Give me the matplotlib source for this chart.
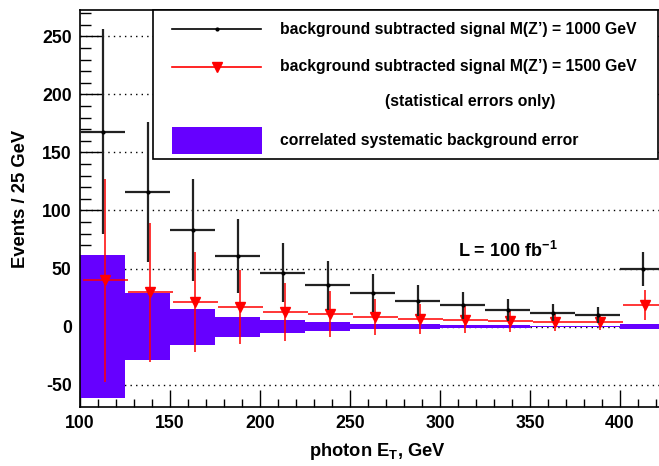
import numpy as np
import matplotlib.pyplot as plt
from matplotlib.patches import Rectangle

plt.rcParams['font.family'] = ['Liberation Sans', 'DejaVu Sans']
plt.rcParams['font.weight'] = 'bold'
plt.rcParams['mathtext.fontset'] = 'custom'
plt.rcParams['mathtext.rm'] = 'Liberation Sans:bold'
plt.rcParams['mathtext.bf'] = 'Liberation Sans:bold'
plt.rcParams['axes.unicode_minus'] = False

# ==================== DADOS ====================
bordas = np.arange(100, 426, 25)
centros = (bordas[:-1] + bordas[1:]) / 2

# M(Z') = 1000 GeV
sinal_1000 = [168, 116, 83, 61, 46.5, 35.5, 28.6, 22.2, 18.3, 14.2, 12, 10.2, 49.5]
erro_1000 = [88, 60, 44, 32, 25.5, 21, 16.5, 13.5, 11.5, 9.5, 7, 7, 14.5]

# M(Z') = 1500 GeV
sinal_1500 = [40, 29.6, 21, 17, 12.6, 10.7, 8, 6.6, 5.9, 5, 4, 3.6, 18.2]
erro_1500 = [87.5, 60, 43, 32, 25, 20, 15.4, 13, 11.8, 10, 7.5, 6.8, 13]

# erro sistematico correlacionado
sistematico = [61.5, 29, 15.5, 8.6, 5.6, 3.8, 2.5, 1.8, 1.3, 1.1, 0.6, 0.5, 2]

roxo = '#6600ff'
# ===============================================

fig = plt.figure(figsize=(6.59, 4.66), dpi=100)
ax = fig.add_axes([80 / 659, 1 - 406.7 / 466, 585 / 659, 396.7 / 466])

ax.bar(centros, 2 * np.array(sistematico), bottom=-np.array(sistematico),
       width=25, color=roxo, linewidth=0, zorder=2)

ax.errorbar(centros, sinal_1000, xerr=12.5, yerr=erro_1000, fmt='o', ms=2,
            color='black', ecolor='#222222', elinewidth=1.6, capsize=0, zorder=4)
ax.errorbar(centros + 1.5, sinal_1500, xerr=12.5, yerr=erro_1500, fmt='v', ms=6.5,
            color='red', elinewidth=1.1, capsize=0, zorder=3)

ax.set_xlim(100, 425)
ax.set_ylim(-69.1, 272.8)
ax.set_yticks([-50, 0, 50, 100, 150, 200, 250])
ax.set_xticks([100, 150, 200, 250, 300, 350, 400])
ax.set_xticks(np.arange(110, 425, 10), minor=True)
ax.set_yticks(np.arange(-60, 271, 10), minor=True)
ax.yaxis.grid(True, linestyle=(0, (1, 3)), color='black', lw=1)
ax.set_axisbelow(True)

ax.tick_params(axis='both', which='both', direction='in', top=False, right=False,
               labelsize=12.7, width=1)
ax.tick_params(axis='x', which='major', length=12, pad=6)
ax.tick_params(axis='x', which='minor', length=6)
ax.tick_params(axis='y', which='major', length=16, pad=6)
ax.tick_params(axis='y', which='minor', length=8)
for s in ax.spines.values():
    s.set_linewidth(1.2)

fig.text(20.7 / 659, 1 - 130 / 466, 'Events / 25 GeV', rotation=90,
         ha='center', va='top', fontsize=13.2, fontweight='bold')
fig.text(446 / 659, 1 - 452 / 466, r'photon E$_{\mathbf{T}}$, GeV',
         ha='right', va='center', fontsize=13.2, fontweight='bold')
fig.text(508 / 659, 1 - 250.5 / 466, r'L = 100 fb$^{\mathbf{-1}}$',
         ha='center', va='center', fontsize=13, fontweight='bold')

# legenda desenhada a mao
leg = fig.add_axes([0, 0, 1, 1], zorder=10)
leg.set_xlim(0, 659)
leg.set_ylim(466, 0)
leg.axis('off')
leg.add_patch(Rectangle((153, 10), 505, 149, facecolor='white',
                        edgecolor='black', lw=1.2))
leg.plot([172, 261], [29.3, 29.3], color='black', lw=1.2)
leg.plot([216.5], [29.3], 'o', color='black', ms=2)
leg.plot([172, 261], [66.7, 66.7], color='red', lw=1.2)
leg.plot([216.5], [66.7], 'v', color='red', ms=6.5)
leg.add_patch(Rectangle((172, 127), 90, 26.5, facecolor=roxo, lw=0))
fs = 11.3
leg.text(280.5, 29.3, 'background subtracted signal M(Z\u2019) = 1000 GeV',
         va='center', fontsize=fs, fontweight='bold')
leg.text(280.5, 66.7, 'background subtracted signal M(Z\u2019) = 1500 GeV',
         va='center', fontsize=fs, fontweight='bold')
leg.text(470, 101.7, '(statistical errors only)', ha='center',
         va='center', fontsize=fs, fontweight='bold')
leg.text(280.5, 140, 'correlated systematic background error',
         va='center', fontsize=fs, fontweight='bold')

fig.savefig('out.png', dpi=100)
